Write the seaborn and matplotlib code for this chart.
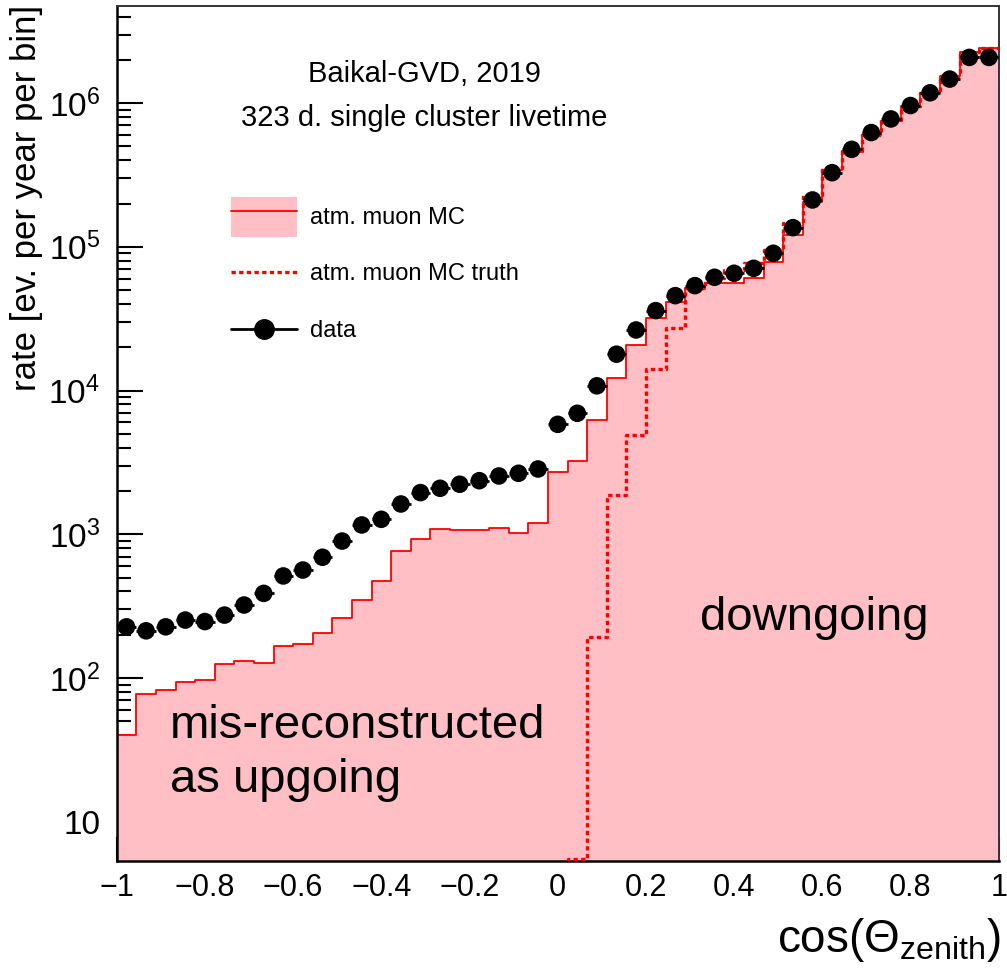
import numpy as np
import pandas as pd
import matplotlib
matplotlib.use("Agg")
import matplotlib.pyplot as plt
from matplotlib.lines import Line2D
from matplotlib.patches import Patch
from matplotlib.ticker import FixedLocator, FuncFormatter, LogLocator, NullFormatter
import seaborn as sns

# ---------------- data ----------------
n_bins = 45
x_min, x_max = -1.0, 1.0

mc_rate = [40.2, 77, 83, 94, 97, 125, 131, 128, 168, 173,
           207, 263, 349, 476, 769, 932, 1089, 1071, 1076, 1111,
           1016, 1193, 2730, 3250, 6210, 12300, 20750, 31830, 41560, 51000,
           55800, 55800, 61100, 78900, 121000, 206000, 340000, 460000, 601000, 756000,
           957000, 1180000, 1550000, 2280000, 2410000]

truth_rate = [0, 0, 0, 0, 0, 0, 0, 0, 0, 0,
              0, 0, 0, 0, 0, 0, 0, 0, 0, 0,
              0, 0, 0, 5.5, 194, 1879, 4910, 14060, 27200, 52000,
              60800, 69000, 77400, 95300, 146600, 229600, 355000, 465000, 600000, 764000,
              950000, 1180000, 1550000, 2280000, 2410000]

data_rate = [227, 213, 227, 253, 247, 274, 322, 388, 513, 564,
             692, 897, 1161, 1271, 1625, 1950, 2090, 2230, 2360, 2546,
             2657, 2846, 5820, 6950, 10790, 17910, 26400, 35990, 45750, 53700,
             61400, 65500, 70900, 90200, 136000, 212000, 328000, 477000, 624000, 776000,
             962000, 1180000, 1470000, 2080000, 2080000]

x_tick_values = [-1, -0.8, -0.6, -0.4, -0.2, 0, 0.2, 0.4, 0.6, 0.8, 1]
x_tick_labels = ["\u22121", "\u22120.8", "\u22120.6", "\u22120.4", "\u22120.2", "0",
                 "0.2", "0.4", "0.6", "0.8", "1"]
y_major_values = [10, 1e2, 1e3, 1e4, 1e5, 1e6]

legend_labels = ["atm. muon MC", "atm. muon MC truth", "data"]
title_lines = ["Baikal-GVD, 2019", "323 d. single cluster livetime"]

edges = np.linspace(x_min, x_max, n_bins + 1).tolist()
centers = [0.5 * (a + b) for a, b in zip(edges[:-1], edges[1:])]
half_w = 0.5 * (edges[1] - edges[0])

df = pd.DataFrame({"x": centers, "mc": mc_rate, "truth": truth_rate, "data": data_rate})

# ---------------- style ----------------
sns.set_style("white")
base_font = "Liberation Sans"
plt.rcParams["font.family"] = [base_font, "DejaVu Sans"]
plt.rcParams["text.color"] = "black"
plt.rcParams["axes.labelcolor"] = "black"
plt.rcParams["xtick.color"] = "black"
plt.rcParams["ytick.color"] = "black"
plt.rcParams["mathtext.fontset"] = "custom"
plt.rcParams["mathtext.rm"] = base_font
plt.rcParams["mathtext.it"] = base_font + ":italic"
plt.rcParams["mathtext.bf"] = base_font + ":bold"
plt.rcParams["mathtext.default"] = "regular"

W, H = 1007, 968
fig = plt.figure(figsize=(W / 100, H / 100), dpi=100)
fig.patch.set_facecolor("white")


def fx(px):
    return px / W


def fy(py):
    return 1 - py / H


ax = fig.add_axes([fx(116.7), fy(861), fx(998.7) - fx(116.7), fy(6) - fy(861)])

pink = "#ffbfc4"
# filled MC histogram
sns.histplot(data=df, x="x", weights="mc", bins=edges, element="step", fill=True,
             color=pink, alpha=1.0, linewidth=0, ax=ax, zorder=1)
# MC outline
sns.histplot(data=df, x="x", weights="mc", bins=edges, element="step", fill=False,
             color="red", linewidth=1.3, ax=ax, zorder=2)
# MC truth dashed
sns.histplot(data=df, x="x", weights="truth", bins=edges, element="step", fill=False,
             color="red", linewidth=2.4, dashes=(1.3, 1.0), ax=ax, zorder=3)
# data points
ax.errorbar(df["x"], df["data"], xerr=half_w, fmt="none", ecolor="black",
            elinewidth=2.0, capsize=0, zorder=4)
sns.scatterplot(data=df, x="x", y="data", color="black", s=160, edgecolor="none",
                ax=ax, zorder=5, legend=False)

ax.set_yscale("log")
ax.set_xlim(x_min, x_max)
ax.set_ylim(5.33, 4.74e6)

# ticks
ax.xaxis.set_major_locator(FixedLocator(x_tick_values))
ax.set_xticklabels(x_tick_labels, fontsize=22)
ax.xaxis.set_minor_locator(FixedLocator(np.arange(-1, 1.0001, 0.05)))
ax.yaxis.set_major_locator(FixedLocator(y_major_values))
ax.yaxis.set_minor_locator(LogLocator(base=10, subs=np.arange(2, 10), numticks=20))
ax.yaxis.set_minor_formatter(NullFormatter())


def yfmt(v, pos):
    e = int(round(np.log10(v)))
    if e == 1:
        return "10"
    return r"$10^{%d}$" % e


ax.yaxis.set_major_formatter(FuncFormatter(yfmt))

ax.tick_params(axis="x", which="major", direction="in", length=17, width=1.5,
               bottom=True, top=False, pad=9, colors="black")
ax.tick_params(axis="x", which="minor", direction="in", length=8.5, width=1.5,
               bottom=True, top=False)
ax.tick_params(axis="y", which="major", direction="in", length=19, width=1.5,
               left=True, right=False, pad=12, labelsize=24, colors="black")
ax.tick_params(axis="y", which="minor", direction="in", length=10, width=1.5,
               left=True, right=False)

for side in ["left", "bottom"]:
    ax.spines[side].set_linewidth(1.8)
    ax.spines[side].set_color("black")
for side in ["top", "right"]:
    ax.spines[side].set_linewidth(1.4)
    ax.spines[side].set_color("#333333")
    ax.spines[side].set_visible(True)

ax.set_xlabel("")
ax.set_ylabel("")

# axis titles
fig.text(fx(27), fy(5), "rate [ev. per year per bin]", rotation=90, ha="center",
         va="top", fontsize=25)
fig.text(fx(1001), fy(952), r"cos($\Theta_{zenith}$)", ha="right", va="baseline",
         fontsize=33)

# header text
fig.text(fx(424), fy(82), title_lines[0], ha="center", va="baseline", fontsize=21)
fig.text(fx(424), fy(126), title_lines[1], ha="center", va="baseline", fontsize=21)

# region annotations
fig.text(fx(700), fy(630), "downgoing", ha="left", va="baseline", fontsize=34)
fig.text(fx(170), fy(738), "mis-reconstructed", ha="left", va="baseline", fontsize=34)
fig.text(fx(170), fy(792), "as upgoing", ha="left", va="baseline", fontsize=34)

# legend (one entry per row for exact row placement)
h_mc = (Patch(facecolor=pink, edgecolor="none"), Line2D([], [], color="red", lw=1.3))
h_truth = Line2D([], [], color="red", lw=2.4, dashes=(1.3, 1.0))
h_data = Line2D([], [], color="black", lw=2.0, marker="o", markersize=14)
fs_leg = 17
fs_px = fs_leg * 100 / 72
common = dict(frameon=False, fontsize=fs_leg, borderpad=0, borderaxespad=0,
              handlelength=66 / fs_px, handletextpad=13 / fs_px)
fig.legend([h_mc], [legend_labels[0]], loc="upper left",
           bbox_to_anchor=(fx(231), fy(197)), handleheight=2.23, **common)
fig.legend([h_truth], [legend_labels[1]], loc="center left",
           bbox_to_anchor=(fx(231), fy(274)), **common)
fig.legend([h_data], [legend_labels[2]], loc="center left",
           bbox_to_anchor=(fx(231), fy(331)), **common)

fig.savefig("out.png", dpi=100, facecolor="white")
